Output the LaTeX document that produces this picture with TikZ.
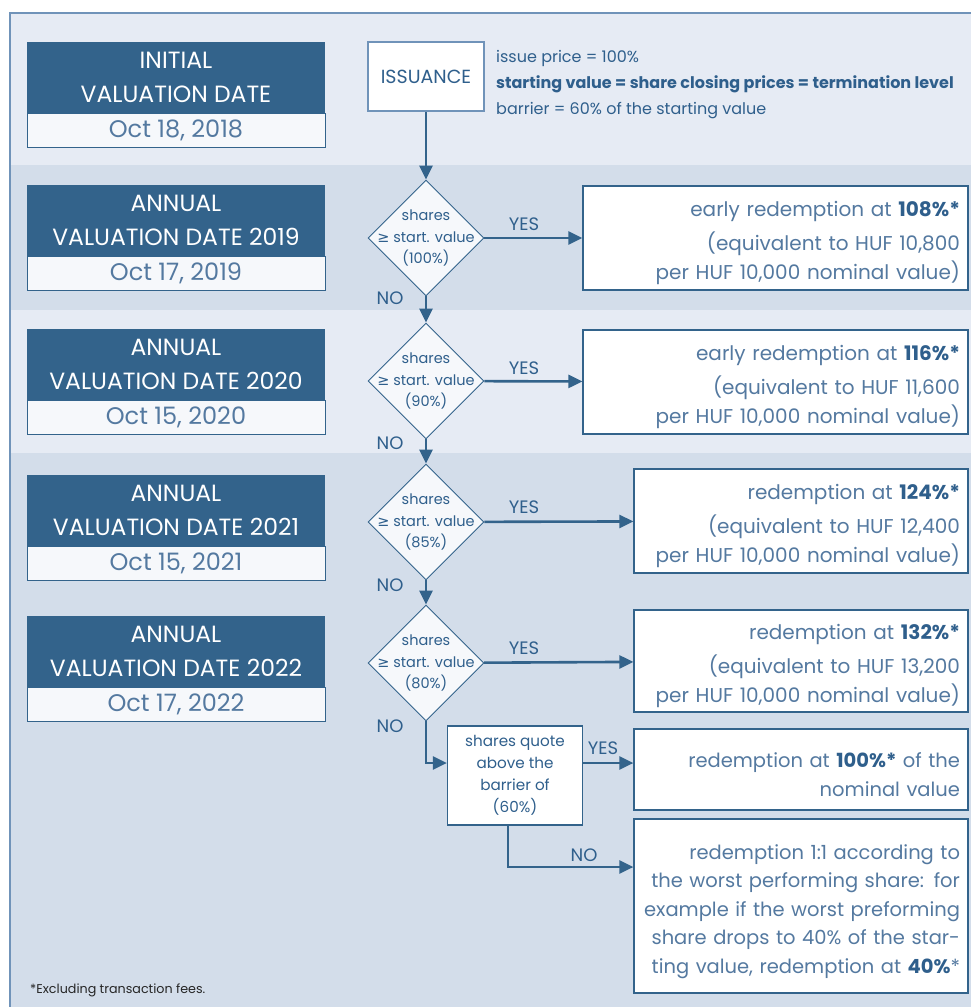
\documentclass[tikz,border=0pt]{standalone}
\usepackage{fontspec}
\setmainfont{Poppins}
\newfontfamily\symb{DejaVu Sans}
\usetikzlibrary{positioning,shapes.geometric,arrows.meta}

\definecolor{bandA}{HTML}{E6EBF4}
\definecolor{bandB}{HTML}{D3DDEA}
\definecolor{navy}{HTML}{33638B}
\definecolor{ink}{HTML}{2F5F8C}
\definecolor{soft}{HTML}{5479A0}
\definecolor{paper}{HTML}{F6F8FB}
\definecolor{framec}{HTML}{7093B9}

\tikzset{
	hdr/.style={fill=navy, text=white, minimum width=298pt, minimum height=71pt,
		inner sep=0pt, align=center, font=\fontsize{23.5}{34}\selectfont},
	datebox/.style={draw=navy, line width=0.8pt, fill=paper, text=soft, minimum width=298pt,
		minimum height=34pt, inner sep=0pt, font=\fontsize{24}{26}\selectfont},
	test/.style={diamond, aspect=1, draw=navy, line width=0.9pt, fill=paper, text=ink,
		minimum size=116pt, inner sep=-12pt, align=center, font=\fontsize{14.5}{21.5}\selectfont},
	payout/.style={draw=navy, line width=1.2pt, fill=white, text=soft, align=right,
		inner xsep=8pt, inner ysep=0pt, font=\fontsize{20}{29}\selectfont,
		execute at begin node={\rule{0pt}{26pt}}},
	lbl/.style={text=ink, inner sep=0pt, font=\fontsize{18}{20}\selectfont},
	flow/.style={draw=navy, line width=2.6pt, -{Triangle[length=14pt,width=13pt]}},
}

\begin{document}
\begin{tikzpicture}[x=1pt,y=-1pt]
	\useasboundingbox (0,0) rectangle (971,1007);
	% bands
	\fill[bandA] (10,13) rectangle (971,165);
	\fill[bandB] (10,165) rectangle (971,310);
	\fill[bandA] (10,310) rectangle (971,453);
	\fill[bandB] (10,453) rectangle (971,1007);
	\draw[framec, line width=1.5pt] (10,1007) -- (10,13) -- (971,13);

	% valuation dates
	\node[hdr] (hdr0) at (176,77.5) {INITIAL\\VALUATION DATE};
	\node[datebox, below=0pt of hdr0] (date0) {Oct 18, 2018};
	\foreach \yr/\yc/\dt in {2019/220.5/{Oct 17, 2019}, 2020/364.5/{Oct 15, 2020},
		2021/510.5/{Oct 15, 2021}, 2022/651.5/{Oct 17, 2022}} {
		\node[hdr] (hdr\yr) at (176,\yc) {ANNUAL\\VALUATION DATE \yr};
		\node[datebox, below=0pt of hdr\yr] (date\yr) {\dt};
	}

	% issuance
	\node[draw=framec, line width=2.5pt, fill=white, text=ink, minimum width=116pt,
		minimum height=69pt, font=\fontsize{19}{20}\selectfont] (iss) at (426,76.5) {ISSUANCE};
	\node[anchor=west, align=left, text=ink, inner sep=0pt, font=\fontsize{16}{26}\selectfont]
		(info) at (496,85) {issue price = 100\%\\
		\textbf{starting value = share closing prices = termination level}\\
		barrier = 60\% of the starting value};

	% tests
	\node[test] (t1) at (426,238) {shares\\{\symb ≥} start. value\\(100\%)};
	\node[test] (t2) at (426,381) {shares\\{\symb ≥} start. value\\(90\%)};
	\node[test] (t3) at (426,522) {shares\\{\symb ≥} start. value\\(85\%)};
	\node[test] (t4) at (426,663) {shares\\{\symb ≥} start. value\\(80\%)};
	\node[draw=navy, line width=1.2pt, fill=white, text=ink, minimum width=135pt, minimum height=99pt,
		inner sep=0pt, align=center, font=\fontsize{15.2}{22}\selectfont] (bar) at (515,775.5)
		{shares quote\\above the\\barrier of\\(60\%)};

	% payouts
	\node[payout, text width=369pt, minimum height=104pt] (p1) at (775.5,238)
		{early redemption at \textbf{\color{ink}108\%*}\\[5pt](equivalent to HUF 10,800\\per HUF 10,000 nominal value)};
	\node[payout, text width=369pt, minimum height=104pt] (p2) at (775.5,382)
		{early redemption at \textbf{\color{ink}116\%*}\\[5pt](equivalent to HUF 11,600\\per HUF 10,000 nominal value)};
	\node[payout, text width=318pt, minimum height=104pt] (p3) at (801,521)
		{redemption at \textbf{\color{ink}124\%*}\\[5pt](equivalent to HUF 12,400\\per HUF 10,000 nominal value)};
	\node[payout, text width=318pt, minimum height=102pt] (p4) at (801,661)
		{redemption at \textbf{\color{ink}132\%*}\\[5pt](equivalent to HUF 13,200\\per HUF 10,000 nominal value)};
	\node[payout, text width=318pt, minimum height=81pt, font=\fontsize{19.5}{29}\selectfont] (p5) at (801,769.5)
		{redemption at \textbf{\color{ink}100\%*} of the\\nominal value};
	\node[payout, text width=318pt, minimum height=174pt, font=\fontsize{19.5}{28.5}\selectfont] (p6) at (801,906)
		{redemption 1:1 according to\\the worst performing share: for\\example if the worst preforming\\
		share drops to 40\% of the star-\\ting value, redemption at \textbf{\color{ink}40\%}*};

	% connectors
	\draw[flow] (iss) -- (t1);
	\draw[flow] (t1) -- (t2);
	\draw[flow] (t2) -- (t3);
	\draw[flow] (t3) -- (t4);
	\draw[flow] (t1) -- (p1);
	\draw[flow] (t2) -- (p2);
	\draw[flow] (t3) -- (p3);
	\draw[flow] (t4) -- (p4);
	\draw[flow] (t4.south) |- ([yshift=12.5pt]bar.west);
	\draw[flow] ([yshift=12.5pt]bar.east) -- ([yshift=12.5pt]bar.east -| p5.west);
	\coordinate (turn) at (508,867);
	\draw[flow] (bar.south -| turn) -- (turn) -- (turn -| p6.west);

	% labels
	\node[lbl] (yes1) at (524,224) {YES};
	\node[lbl] (yes2) at (524,368) {YES};
	\node[lbl] (yes3) at (524,507) {YES};
	\node[lbl] (yes4) at (524,648) {YES};
	\node[lbl] (yes5) at (603,748) {YES};
	\node[lbl] (no1) at (390,298) {NO};
	\node[lbl] (no2) at (390,443) {NO};
	\node[lbl] (no3) at (390,585) {NO};
	\node[lbl] (no4) at (390,726) {NO};
	\node[lbl] (no5) at (584,855) {NO};

	\node[anchor=west, inner sep=0pt, text=black!85, font=\fontsize{12.7}{14}\selectfont] (note) at (30,990)
		{*Excluding transaction fees.};
\end{tikzpicture}
\end{document}
